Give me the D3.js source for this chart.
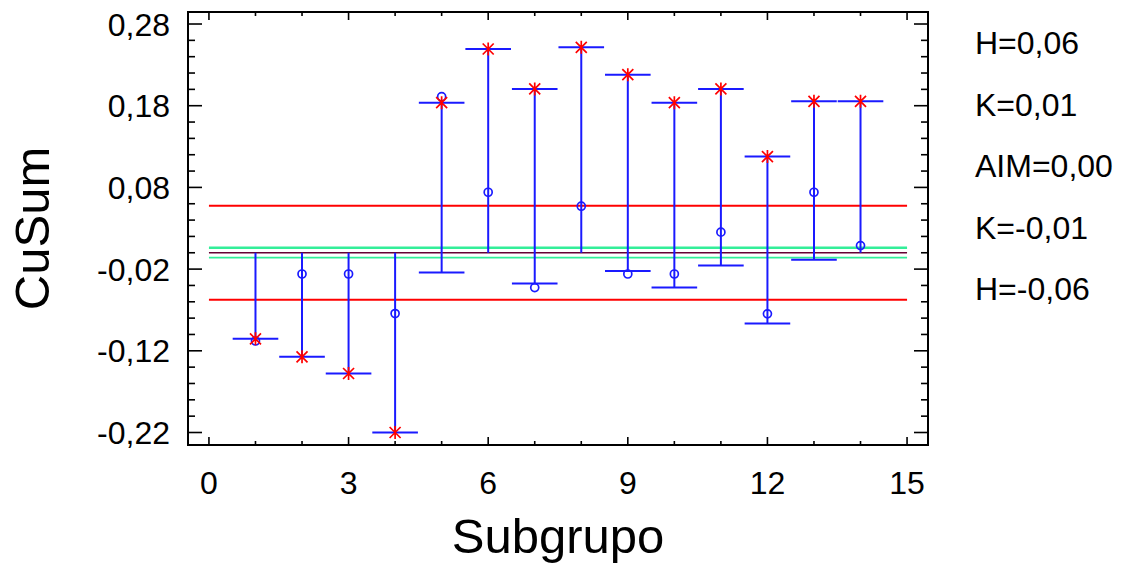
<!DOCTYPE html>
<meta charset="utf-8">
<style>
body { margin: 0; background: #fff; }
text { font-family: "Liberation Sans", Arial, sans-serif; fill: #000; }
</style>
<body>
<script src="https://cdn.jsdelivr.net/npm/d3@7"></script>
<script>
// CuSum H-K chart
var subgroups = [1, 2, 3, 4, 5, 6, 7, 8, 9, 10, 11, 12, 13, 14];
var upper = [0, 0, 0, 0, 0.1837, 0.2494, 0.2005, 0.2515, 0.218, 0.1837, 0.2005, 0.1177, 0.1854, 0.1854];
var lower = [-0.1054, -0.1274, -0.1478, -0.22, -0.0243, 0, -0.0377, 0, -0.0222, -0.0426, -0.0157, -0.0867, -0.0087, 0];
var means = [-0.108, -0.026, -0.026, -0.0744, 0.191, 0.0741, -0.0426, 0.057, -0.026, -0.026, 0.0252, -0.0748, 0.0741, 0.0088];
var stars = [-0.1054, -0.1274, -0.1478, -0.22, 0.1837, 0.2494, 0.2005, 0.2515, 0.218, 0.1837, 0.2005, 0.1177, 0.1854, 0.1854];
var H = 0.0575, K = 0.006, AIM = 0;
var legendLabels = ["H=0,06", "K=0,01", "AIM=0,00", "K=-0,01", "H=-0,06"];
var xTicks = [0, 3, 6, 9, 12, 15];
var yTicks = [0.28, 0.18, 0.08, -0.02, -0.12, -0.22];

var width = 1142, height = 564;
var pL = 188, pR = 928, pT = 12, pB = 445;

var svg = d3.select("body").append("svg")
    .attr("width", width)
    .attr("height", height);

var x = d3.scaleLinear().domain([-0.45, 15.45]).range([pL, pR]);
var y = d3.scaleLinear().domain([-0.2353, 0.2947]).range([pB, pT]);

var fmt = function(d) { return d3.format(".2f")(d).replace(".", ",").replace("−", "-"); };

// reference lines
var refs = [
    {v: H, c: "#ff0000", w: 2},
    {v: -H, c: "#ff0000", w: 2},
    {v: K, c: "#33ee99", w: 2.5},
    {v: -K, c: "#33ee99", w: 1.8},
    {v: AIM, c: "#660033", w: 1.6}
];
svg.append("g").selectAll("line")
    .data(refs)
    .enter().append("line")
    .attr("x1", x(0)).attr("x2", x(15))
    .attr("y1", function(d) { return y(d.v); })
    .attr("y2", function(d) { return y(d.v); })
    .attr("stroke", function(d) { return d.c; })
    .attr("stroke-width", function(d) { return d.w; });

var data = subgroups.map(function(s, i) {
    return {s: s, hi: upper[i], lo: lower[i], m: means[i], st: stars[i]};
});

var blue = "#1a1aff";
var g = svg.append("g");
g.selectAll(".stem").data(data).enter().append("line")
    .attr("x1", function(d) { return x(d.s); })
    .attr("x2", function(d) { return x(d.s); })
    .attr("y1", function(d) { return y(d.lo); })
    .attr("y2", function(d) { return y(d.hi); })
    .attr("stroke", blue).attr("stroke-width", 2);

var caps = [];
data.forEach(function(d) {
    if (d.hi != 0) caps.push({s: d.s, v: d.hi});
    if (d.lo != 0) caps.push({s: d.s, v: d.lo});
});
g.selectAll(".cap").data(caps).enter().append("line")
    .attr("x1", function(d) { return x(d.s - 0.49); })
    .attr("x2", function(d) { return x(d.s + 0.49); })
    .attr("y1", function(d) { return y(d.v); })
    .attr("y2", function(d) { return y(d.v); })
    .attr("stroke", blue).attr("stroke-width", 2);

g.selectAll(".mean").data(data).enter().append("circle")
    .attr("cx", function(d) { return x(d.s); })
    .attr("cy", function(d) { return y(d.m); })
    .attr("r", 4)
    .attr("fill", "none")
    .attr("stroke", blue).attr("stroke-width", 1.7);

g.selectAll(".star").data(data).enter().append("path")
    .attr("transform", function(d) { return "translate(" + x(d.s) + "," + y(d.st) + ")"; })
    .attr("d", "M-5.5,-5.5L5.5,5.5M-5.5,5.5L5.5,-5.5M0,-6.5L0,6.5")
    .attr("stroke", "#ff0000").attr("stroke-width", 1.7)
    .attr("fill", "none");

// frame and ticks
var axes = svg.append("g").attr("stroke", "#000");
axes.append("rect")
    .attr("x", pL).attr("y", pT)
    .attr("width", pR - pL).attr("height", pB - pT)
    .attr("fill", "none").attr("stroke-width", 2);

var yMinor = d3.range(-0.22, 0.2901, 0.02);
yMinor.forEach(function(v) {
    var major = yTicks.some(function(t) { return Math.abs(t - v) < 1e-6; });
    var len = major ? 14 : 7;
    axes.append("line").attr("x1", pL).attr("x2", pL + len)
        .attr("y1", y(v)).attr("y2", y(v)).attr("stroke-width", 1.6);
    axes.append("line").attr("x1", pR).attr("x2", pR - len)
        .attr("y1", y(v)).attr("y2", y(v)).attr("stroke-width", 1.6);
});
d3.range(0, 16).forEach(function(v) {
    var len = v % 3 == 0 ? 8 : 4;
    axes.append("line").attr("x1", x(v)).attr("x2", x(v))
        .attr("y1", pB).attr("y2", pB - len).attr("stroke-width", 1.6);
    axes.append("line").attr("x1", x(v)).attr("x2", x(v))
        .attr("y1", pT).attr("y2", pT + len).attr("stroke-width", 1.6);
});

// tick labels
svg.append("g").selectAll("text")
    .data(yTicks)
    .enter().append("text")
    .attr("x", 170)
    .attr("y", function(d) { return y(d); })
    .attr("dy", "0.36em")
    .attr("text-anchor", "end")
    .style("font-size", "32px")
    .text(fmt);

svg.append("g").selectAll("text")
    .data(xTicks)
    .enter().append("text")
    .attr("x", function(d) { return x(d); })
    .attr("y", 494)
    .attr("text-anchor", "middle")
    .style("font-size", "32px")
    .text(function(d) { return d; });

svg.append("text")
    .attr("x", (pL + pR) / 2)
    .attr("y", 553)
    .attr("text-anchor", "middle")
    .style("font-size", "49px")
    .text("Subgrupo");

svg.append("text")
    .attr("transform", "translate(49," + (pT + pB) / 2 + ") rotate(-90)")
    .attr("text-anchor", "middle")
    .style("font-size", "49px")
    .text("CuSum");

svg.append("g").selectAll("text")
    .data(legendLabels)
    .enter().append("text")
    .attr("x", 975)
    .attr("y", function(d, i) { return 54 + i * 61.5; })
    .style("font-size", "32px")
    .text(function(d) { return d; });
</script>
</body>
